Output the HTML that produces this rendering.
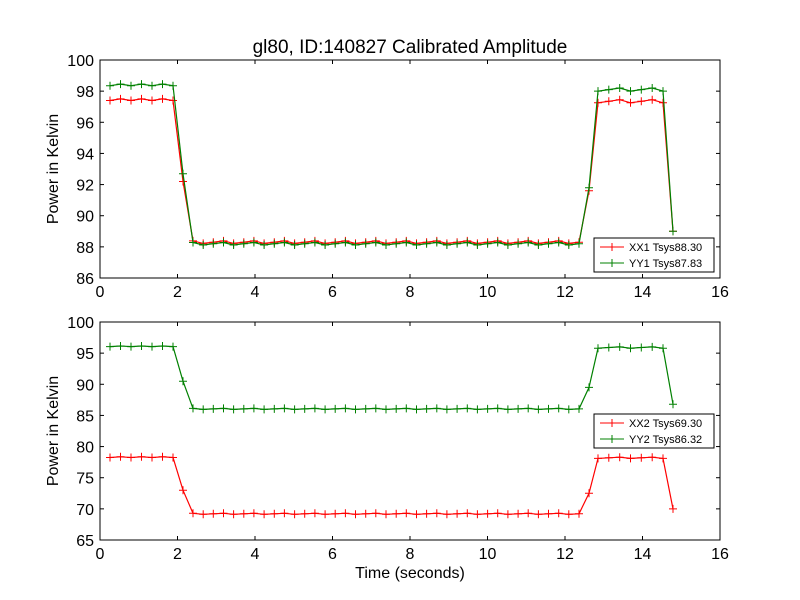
<!DOCTYPE html>
<html><head><meta charset="utf-8"><style>body{margin:0;background:#fff}svg{display:block}text{font-family:"Liberation Sans","DejaVu Sans",sans-serif}</style></head>
<body>
<svg id="s" width="800" height="600" xmlns="http://www.w3.org/2000/svg"></svg>
<script>
const S=document.getElementById('s');let h='';
h+='<rect width="800" height="600" fill="#fff"/>';
const X=v=>100+v*38.75;
const XS=[];for(let i=0;i<7;i++)XS.push(110+i*10.5);XS.push(183);for(let i=0;i<=38;i++)XS.push(193+i*386/38);XS.push(589);for(let i=0;i<7;i++)XS.push(598+i*65/6);XS.push(673);
function axes(top,bot,ymin,ymax,step,series,legY,labs){
 const Y=v=>bot-(v-ymin)*(bot-top)/(ymax-ymin);
 for(let t=0;t<=16;t+=2){const x=X(t);h+=`<line x1="${x}" y1="${bot}" x2="${x}" y2="${bot-4}" stroke="#000"/><line x1="${x}" y1="${top}" x2="${x}" y2="${top+4}" stroke="#000"/><text x="${x}" y="${bot+19}" font-size="16" text-anchor="middle">${t}</text>`;}
 for(let t=ymin;t<=ymax;t+=step){const y=Y(t);h+=`<line x1="100" y1="${y}" x2="104" y2="${y}" stroke="#000"/><line x1="720" y1="${y}" x2="716" y2="${y}" stroke="#000"/><text x="94" y="${y+6}" font-size="16" text-anchor="end">${t}</text>`;}
 series.forEach(([c,vals])=>{let p=vals.map((v,i)=>XS[i].toFixed(1)+','+Y(v).toFixed(1));
  h+=`<polyline fill="none" stroke="${c}" stroke-width="1.2" points="${p.join(' ')}"/>`;
  p.forEach(q=>{const [x,y]=q.split(',').map(Number);h+=`<path d="M${x-4} ${y}H${x+4}M${x} ${y-4}V${y+4}" stroke="${c}"/>`;});});
 h+=`<rect x="100" y="${top}" width="620" height="${bot-top}" fill="none" stroke="#000"/>`;
 h+=`<rect x="594" y="${legY}" width="120" height="34" fill="#fff" stroke="#000"/>`;
 labs.forEach(([c,t],k)=>{const y=legY+9+k*16;h+=`<line x1="600" y1="${y}" x2="624" y2="${y}" stroke="${c}"/><path d="M608 ${y}H616M612 ${y-4}V${y+4}" stroke="${c}"/><text x="629" y="${y+4}" font-size="11">${t}</text>`;});
}
function mk(hi,tr,lo,rise,hi2,fin){const a=[];for(let i=0;i<56;i++){let v;if(i<=6)v=hi+(i%2?0.05:-0.05);else if(i==7)v=tr;else if(i<=46)v=lo+((i*7)%3-1)*0.08;else if(i==47)v=rise;else if(i<=54)v=hi2+((i%3)-1)*0.1;else v=fin;a.push(v);}return a;}
axes(60,278,86,100,2,[["red",mk(97.45,92.2,88.3,91.6,97.35,89)],["green",mk(98.4,92.7,88.2,91.8,98.1,89)]],238,[["red","XX1 Tsys88.30"],["green","YY1 Tsys87.83"]]);
axes(322,540,65,100,5,[["red",mk(78.3,73,69.2,72.5,78.2,70)],["green",mk(96.1,90.5,86.05,89.5,95.9,86.8)]],414,[["red","XX2 Tsys69.30"],["green","YY2 Tsys86.32"]]);
h+='<text x="410" y="53" font-size="19" text-anchor="middle">gl80, ID:140827 Calibrated Amplitude</text>';
h+='<text x="410" y="578" font-size="16" text-anchor="middle">Time (seconds)</text>';
h+='<text transform="translate(58,169) rotate(-90)" font-size="16" text-anchor="middle">Power in Kelvin</text>';
h+='<text transform="translate(58,431) rotate(-90)" font-size="16" text-anchor="middle">Power in Kelvin</text>';
S.innerHTML=h;
</script>
</body></html>
